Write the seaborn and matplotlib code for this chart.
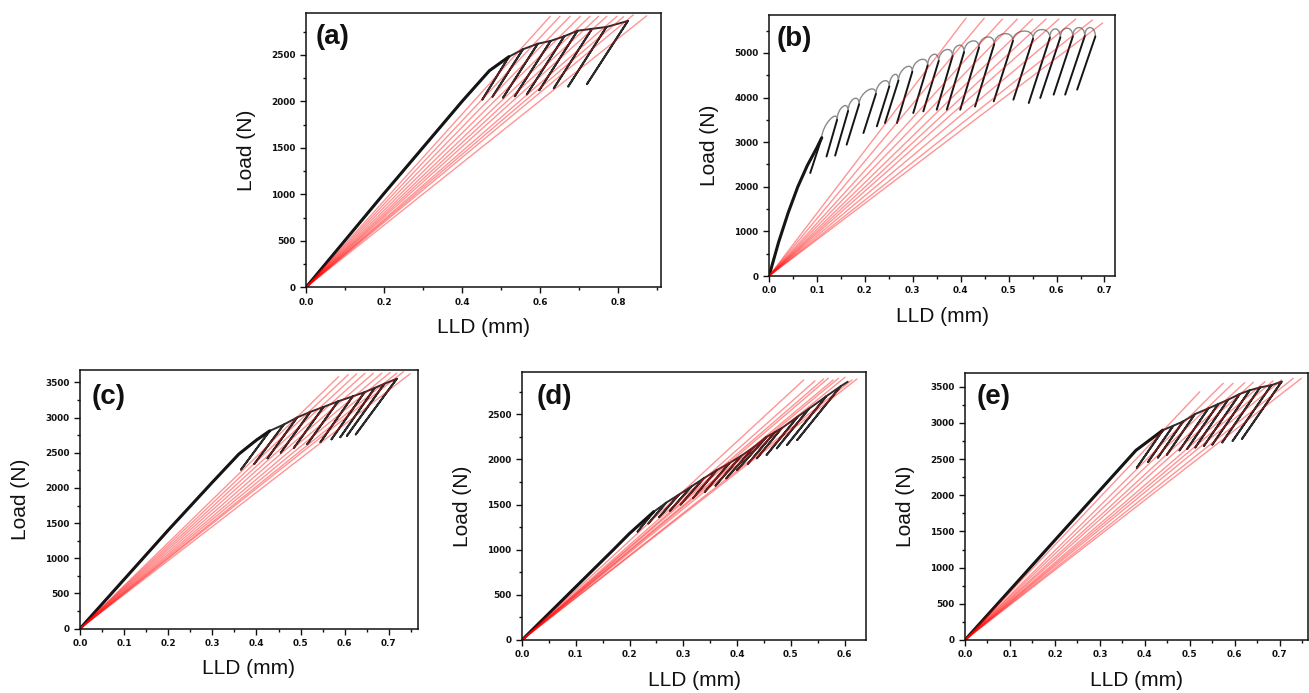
import matplotlib
matplotlib.use("Agg")

import matplotlib.pyplot as plt
from matplotlib.path import Path
from matplotlib.patches import PathPatch
from matplotlib.ticker import MultipleLocator, FormatStrFormatter
import pandas as pd
import seaborn as sns

# ---- panel (a) -------------------------------------------------------------
a_load_x = [0.0, 0.20, 0.40, 0.47, 0.520]
a_load_y = [0, 1010, 2000, 2330, 2480]
a_peak_x = [0.520, 0.556, 0.594, 0.627, 0.662, 0.696, 0.733, 0.770, 0.825]
a_peak_y = [2480, 2560, 2620, 2650, 2700, 2760, 2780, 2800, 2865]
a_valley_x = [0.452, 0.478, 0.505, 0.535, 0.566, 0.598, 0.635, 0.672, 0.720]
a_valley_y = [2020, 2050, 2040, 2055, 2075, 2120, 2140, 2160, 2185]
a_red_x = [0.626, 0.651, 0.677, 0.703, 0.728, 0.750, 0.771, 0.797, 0.814, 0.839, 0.873]
a_red_y = [2915, 2915, 2915, 2915, 2915, 2915, 2915, 2915, 2910, 2930, 2920]

# ---- panel (b) -------------------------------------------------------------
b_load_x = [0.0, 0.02, 0.04, 0.06, 0.08, 0.10, 0.110]
b_load_y = [0, 760, 1420, 2000, 2480, 2880, 3100]
b_peak_x = [0.110, 0.142, 0.165, 0.188, 0.223, 0.251, 0.270, 0.299, 0.331, 0.354, 0.383,
            0.407, 0.438, 0.470, 0.509, 0.551, 0.586, 0.608, 0.634, 0.659, 0.681]
b_peak_y = [3100, 3500, 3700, 3850, 4080, 4250, 4380, 4580, 4720, 4820, 4930,
            5020, 5120, 5200, 5270, 5320, 5340, 5350, 5370, 5380, 5370]
b_valley_x = [0.086, 0.120, 0.138, 0.162, 0.197, 0.225, 0.242, 0.267, 0.301, 0.322, 0.350,
              0.371, 0.399, 0.430, 0.469, 0.510, 0.542, 0.566, 0.594, 0.618, 0.643]
b_valley_y = [2310, 2680, 2700, 2945, 3206, 3356, 3430, 3430, 3655, 3692, 3729,
              3729, 3729, 3800, 3916, 3954, 3879, 3991, 4066, 4066, 4178]
b_red_x = [0.411, 0.449, 0.487, 0.518, 0.550, 0.578, 0.605, 0.640, 0.675, 0.696]
b_red_y = [5780, 5780, 5760, 5760, 5760, 5760, 5760, 5760, 5740, 5670]

# ---- panel (c) -------------------------------------------------------------
c_load_x = [0.0, 0.20, 0.30, 0.36, 0.40, 0.430]
c_load_y = [0, 1400, 2080, 2480, 2680, 2810]
c_peak_x = [0.430, 0.462, 0.492, 0.522, 0.552, 0.585, 0.618, 0.645, 0.668, 0.690, 0.718]
c_peak_y = [2810, 2900, 3000, 3080, 3150, 3230, 3300, 3360, 3420, 3480, 3550]
c_valley_x = [0.365, 0.395, 0.425, 0.455, 0.485, 0.515, 0.545, 0.570, 0.590, 0.605, 0.625]
c_valley_y = [2260, 2340, 2420, 2500, 2570, 2620, 2650, 2690, 2720, 2740, 2760]
c_red_x = [0.586, 0.608, 0.627, 0.646, 0.665, 0.684, 0.703, 0.718, 0.733, 0.748]
c_red_y = [3580, 3610, 3620, 3630, 3630, 3630, 3640, 3630, 3650, 3620]

# ---- panel (d) -------------------------------------------------------------
d_load_x = [0.0, 0.17, 0.20, 0.245]
d_load_y = [0, 1000, 1180, 1420]
d_peak_x = [0.245, 0.268, 0.292, 0.315, 0.338, 0.362, 0.386, 0.408,
            0.432, 0.455, 0.470, 0.483, 0.513, 0.534, 0.566, 0.593]
d_peak_y = [1420, 1520, 1610, 1700, 1790, 1880, 1960, 2040,
            2140, 2250, 2300, 2346, 2474, 2562, 2699, 2811]
d_valley_x = [0.215, 0.235, 0.255, 0.275, 0.295, 0.318, 0.340, 0.360,
              0.380, 0.400, 0.420, 0.437, 0.455, 0.474, 0.493, 0.512]
d_valley_y = [1200, 1290, 1360, 1430, 1500, 1570, 1640, 1710,
              1790, 1880, 1950, 2012, 2049, 2123, 2160, 2215]
d_tail_x = [0.593, 0.606]
d_tail_y = [2811, 2860]
d_red_x = [0.524, 0.545, 0.561, 0.570, 0.579, 0.589, 0.601, 0.614, 0.623]
d_red_y = [2880, 2870, 2890, 2900, 2880, 2900, 2910, 2880, 2890]

# ---- panel (e) -------------------------------------------------------------
e_load_x = [0.0, 0.20, 0.38, 0.440]
e_load_y = [0, 1380, 2620, 2900]
e_peak_x = [0.440, 0.463, 0.485, 0.511, 0.541, 0.563, 0.585, 0.611, 0.633, 0.656, 0.681, 0.704]
e_peak_y = [2900, 2960, 3020, 3120, 3200, 3260, 3320, 3400, 3450, 3490, 3520, 3570]
e_valley_x = [0.382, 0.407, 0.429, 0.449, 0.477, 0.494, 0.512, 0.531, 0.550, 0.572, 0.595, 0.616]
e_valley_y = [2380, 2460, 2520, 2560, 2620, 2640, 2660, 2680, 2700, 2730, 2750, 2780]
e_red_x = [0.522, 0.574, 0.596, 0.622, 0.641, 0.667, 0.685, 0.704, 0.730, 0.748]
e_red_y = [3430, 3547, 3547, 3556, 3560, 3570, 3580, 3593, 3616, 3616]

PANELS = [
    dict(tag="(a)", rect=[0.2338, 0.5854, 0.2712, 0.3958], xlim=0.91, ylim=2950,
         xmaj=0.2, xmin=0.1, ymaj=500, ymin=250, tag_xy=(0.028, 0.911),
         load=(a_load_x, a_load_y), peak=(a_peak_x, a_peak_y),
         valley=(a_valley_x, a_valley_y), tail=None, red=(a_red_x, a_red_y), arcs=False),
    dict(tag="(b)", rect=[0.5875, 0.6017, 0.2643, 0.3766], xlim=0.722, ylim=5850,
         xmaj=0.1, xmin=0.05, ymaj=1000, ymin=500, tag_xy=(0.023, 0.908),
         load=(b_load_x, b_load_y), peak=(b_peak_x, b_peak_y),
         valley=(b_valley_x, b_valley_y), tail=None, red=(b_red_x, b_red_y), arcs=True),
    dict(tag="(c)", rect=[0.0611, 0.0928, 0.2582, 0.3733], xlim=0.766, ylim=3675,
         xmaj=0.1, xmin=0.05, ymaj=500, ymin=250, tag_xy=(0.035, 0.896),
         load=(c_load_x, c_load_y), peak=(c_peak_x, c_peak_y),
         valley=(c_valley_x, c_valley_y), tail=None, red=(c_red_x, c_red_y), arcs=False),
    dict(tag="(d)", rect=[0.3988, 0.0765, 0.2628, 0.3863], xlim=0.64, ylim=2965,
         xmaj=0.1, xmin=0.05, ymaj=500, ymin=250, tag_xy=(0.043, 0.909),
         load=(d_load_x, d_load_y), peak=(d_peak_x, d_peak_y),
         valley=(d_valley_x, d_valley_y), tail=(d_tail_x, d_tail_y), red=(d_red_x, d_red_y), arcs=False),
    dict(tag="(e)", rect=[0.7372, 0.0765, 0.2618, 0.3848], xlim=0.762, ylim=3685,
         xmaj=0.1, xmin=0.05, ymaj=500, ymin=250, tag_xy=(0.034, 0.912),
         load=(e_load_x, e_load_y), peak=(e_peak_x, e_peak_y),
         valley=(e_valley_x, e_valley_y), tail=None, red=(e_red_x, e_red_y), arcs=False),
]

_BLACK = "#151515"
_RED = "#ff0000"
_INK = "#111111"

sns.set_theme(style="white")
plt.rcParams["font.family"] = ["DejaVu Sans"]


def _sawtooth(p):
    """Loading curve, then peak -> valley -> peak for every unload cycle."""
    xs, ys = list(p["load"][0]), list(p["load"][1])
    for px, py, vx, vy in zip(*p["peak"], *p["valley"]):
        xs += [px, vx, px]
        ys += [py, vy, py]
    if p["tail"]:
        xs += list(p["tail"][0])
        ys += list(p["tail"][1])
    return pd.DataFrame({"lld": xs, "load": ys})


def _draw(ax, p):
    lx, ly = p["load"]
    sns.lineplot(x=lx, y=ly, sort=False, estimator=None, color=_BLACK, lw=2.2, ax=ax)

    if p["arcs"]:
        # gray hairpin tops between consecutive unloading lines
        pk_x, pk_y = p["peak"]
        h = 260
        for i in range(len(pk_x) - 1):
            verts = [(pk_x[i], pk_y[i]), (pk_x[i], pk_y[i] + h),
                     (pk_x[i + 1], pk_y[i + 1] + h), (pk_x[i + 1], pk_y[i + 1])]
            codes = [Path.MOVETO, Path.CURVE4, Path.CURVE4, Path.CURVE4]
            ax.add_patch(PathPatch(Path(verts, codes), fill=False, ec="#8a8a8a", lw=1.0))
        rows = []
        for k, (px, py, vx, vy) in enumerate(zip(*p["peak"], *p["valley"])):
            rows += [(k, vx, vy), (k, px, py)]
        seg = pd.DataFrame(rows, columns=["cycle", "lld", "load"])
        sns.lineplot(data=seg, x="lld", y="load", units="cycle", estimator=None,
                     sort=False, color=_BLACK, lw=1.4, ax=ax)
    else:
        df = _sawtooth(p)
        sns.lineplot(data=df, x="lld", y="load", sort=False, estimator=None,
                     color=_BLACK, lw=1.4, alpha=0.9, ax=ax)

    rx, ry = p["red"]
    rows = []
    for k, (x1, y1) in enumerate(zip(rx, ry)):
        rows += [(k, 0.0, 0.0), (k, x1, y1)]
    red = pd.DataFrame(rows, columns=["line", "lld", "load"])
    sns.lineplot(data=red, x="lld", y="load", units="line", estimator=None,
                 sort=False, color=_RED, alpha=0.42, lw=1.0, ax=ax)


fig = plt.figure(figsize=(13.09, 6.93), dpi=100)
fig.patch.set_facecolor("white")

for p in PANELS:
    ax = fig.add_axes(p["rect"])
    _draw(ax, p)

    ax.set_xlim(0, p["xlim"])
    ax.set_ylim(0, p["ylim"])
    ax.xaxis.set_major_locator(MultipleLocator(p["xmaj"]))
    ax.xaxis.set_minor_locator(MultipleLocator(p["xmin"]))
    ax.yaxis.set_major_locator(MultipleLocator(p["ymaj"]))
    ax.yaxis.set_minor_locator(MultipleLocator(p["ymin"]))
    ax.xaxis.set_major_formatter(FormatStrFormatter("%.1f"))
    ax.yaxis.set_major_formatter(FormatStrFormatter("%d"))

    ax.tick_params(which="both", direction="out", bottom=True, left=True,
                   top=False, right=False, color=_INK, labelcolor=_INK, width=1.0)
    ax.tick_params(which="major", length=4, pad=3.5, labelsize=6.4)
    ax.tick_params(which="minor", length=2.5)
    for lbl in ax.get_xticklabels() + ax.get_yticklabels():
        lbl.set_fontweight("bold")

    for spine in ax.spines.values():
        spine.set_visible(True)
        spine.set_edgecolor(_INK)
        spine.set_linewidth(1.1)

    ax.set_xlabel("LLD (mm)", family="Liberation Sans", fontsize=15, labelpad=8, color=_INK)
    ax.set_ylabel("Load (N)", family="Liberation Sans", fontsize=15, labelpad=11, color=_INK)
    ax.text(*p["tag_xy"], p["tag"], transform=ax.transAxes, family="Liberation Sans",
            fontsize=20, fontweight="bold", va="center", ha="left", color=_INK)

fig.savefig("out.png", dpi=100, facecolor="white")
plt.close(fig)
